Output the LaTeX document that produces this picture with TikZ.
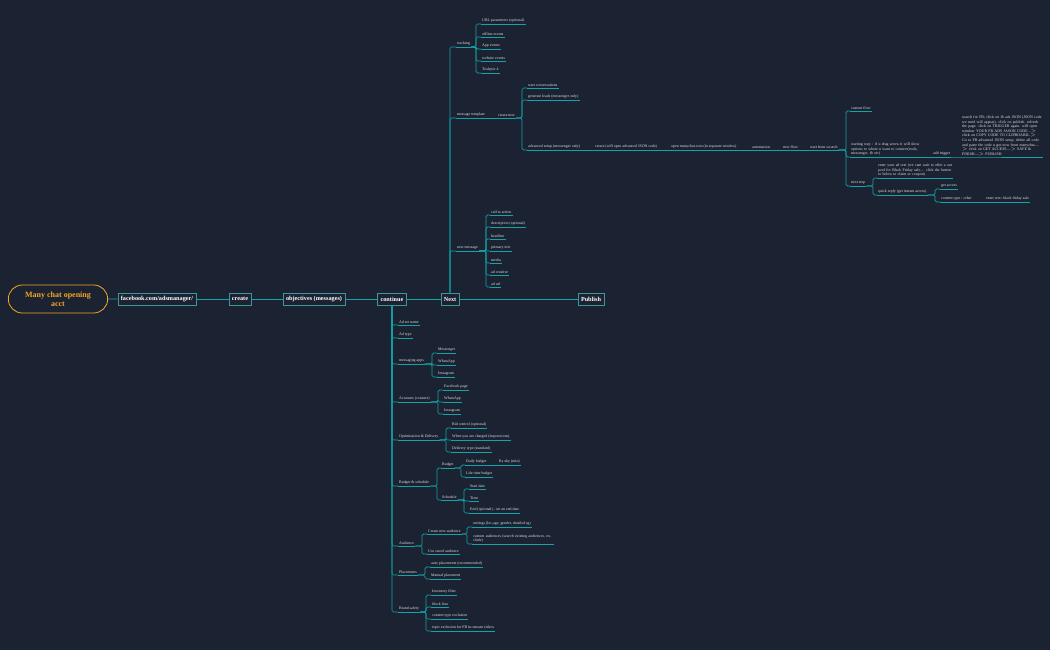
\documentclass[tikz,border=0pt]{standalone}
\usepackage{fontspec}
\setmainfont{Liberation Serif}
\usetikzlibrary{shapes.misc}
\definecolor{bg}{HTML}{1B2232}
\definecolor{tl}{HTML}{14A3A8}
\definecolor{org}{HTML}{F5A623}
\tikzset{
 leaf/.style={font=\fontsize{3.9}{4.6}\selectfont, text=white!88!black, inner sep=1pt, anchor=south west, align=left},
 ul/.style={tl, line width=0.7pt},
 cn/.style={tl, line width=0.7pt, rounded corners=1.5pt},
 box/.style={draw=tl!60!gray, fill=bg, line width=0.6pt, text=white, font=\bfseries\fontsize{6.2}{7}\selectfont, inner xsep=3pt, minimum height=12pt},
 main/.style={tl, line width=0.8pt}
}
\newcommand\lf[4]{\node[leaf] (#1) at (#2,#3) {#4}; \draw[ul] (#1.south west) -- (#1.south east);}
\newcommand\cn[3]{\draw[cn] (#1.south east) -- (#1.south east -| #2) |- (#3.south west);}
\begin{document}
\begin{tikzpicture}[x=1pt,y=-1pt]
\fill[bg] (0,0) rectangle (1050,650);
\useasboundingbox (0,0) rectangle (1050,650);
% main chain
\node[draw=org, rounded rectangle, line width=0.8pt, minimum width=106pt, minimum height=28pt, align=center, text=org, font=\bfseries\fontsize{8}{9}\selectfont] (root) at (58,299) {Many chat opening\\acct};
\node[box] (fb) at (157,299) {facebook.com/adsmanager/};
\node[box] (cr) at (240,299) {create};
\node[box] (obj) at (314,299) {objectives (messages)};
\node[box] (cont) at (392,299) {continue};
\node[box] (nx) at (450,299) {Next};
\node[box] (pub) at (591,299) {Publish};
\draw[main] (root) -- (fb); \draw[main] (fb) -- (cr); \draw[main] (cr) -- (obj);
\draw[main] (obj) -- (cont); \draw[main] (cont) -- (nx); \draw[main] (nx) -- (pub);
% Next children
\lf{trk}{456}{47}{tracking}
\lf{mt}{456}{118}{message template}
\lf{nm}{456}{251}{new message}
\foreach \c in {trk,mt,nm}{\draw[cn] (nx.north) |- (\c.south west);}
\coordinate (b1) at (476,0);
\lf{t1}{481}{24}{URL parameters (optional)}
\lf{t2}{481}{37}{offline events}
\lf{t3}{481}{49}{App events}
\lf{t4}{481}{61}{website events}
\lf{t5}{481}{73}{Tealepix 4}
\foreach \c in {t1,t2,t3,t4,t5}{\cn{trk}{b1}{\c}}
\lf{cnw}{497}{118}{create new}
\draw[ul] (mt.south east) -- (cnw.south west);
\coordinate (b2) at (522,0);
\lf{sc}{527}{88}{start conversations}
\lf{gl}{527}{100}{generate leads (messenger only)}
\lf{as}{527}{150}{advanced setup (messenger only)}
\foreach \c in {sc,gl,as}{\cn{cnw}{b2}{\c}}
\lf{cj}{594}{150}{create (will open advanced JSON code)}
\lf{om}{670}{150}{open manychat.com (in separate window)}
\lf{au}{751}{150}{automation}
\lf{nf}{782}{150}{new flow}
\lf{ss}{809}{150}{start from scratch}
\draw[ul] (as.south east) -- (cj.south west); \draw[ul] (cj.south east) -- (om.south west);
\draw[ul] (om.south east) -- (au.south west); \draw[ul] (au.south east) -- (nf.south west);
\draw[ul] (nf.south east) -- (ss.south west);
\coordinate (b3) at (846,0);
\lf{cf}{850}{111}{custom flow}
\node[leaf, text width=72pt] (st) at (850,157) {starting step : if u drag arrow it will show options to where u want to connect(tools, messenger, fb etc)};
\draw[ul] (st.south west) -- (st.south east);
\lf{ns}{850}{186}{next step}
\foreach \c in {cf,st,ns}{\cn{ss}{b3}{\c}}
\lf{at}{932}{157}{add trigger}
\draw[ul] (st.south east) -- (at.south west);
\node[leaf, text width=80pt] (js) at (961,157) {search for FB; click on fb ads JSON (JSON code we need will appear). click on publish. refresh the page. click on TRIGGER again. will open window YOUR FB ADS JASON CODE --$>$ click on COPY CODE TO CLIPBOARD--$>$ Go to FB advanced JSON setup, delete all code and paste the code u got now from manychat---$>$ click on GET ACCESS---$>$ SAVE \& FINISH---$>$ PUBLISH};
\draw[ul] (at.south east) -- (js.south west) -- (js.south east);
\coordinate (b4) at (873,0);
\node[leaf, text width=74pt] (et) at (877,178) {enter your ad text (we cant wait to offer a our pool for Black Friday sale.... click the button to below to claim ur coupon)};
\draw[ul] (et.south west) -- (et.south east);
\lf{qr}{877}{195}{quick reply (get instant access)}
\foreach \c in {et,qr}{\cn{ns}{b4}{\c}}
\coordinate (b5) at (935,0);
\lf{ga}{940}{189}{get access}
\lf{ct}{940}{202}{content type : other}
\foreach \c in {ga,ct}{\cn{qr}{b5}{\c}}
\lf{eb}{985}{202}{enter text: black friday sale}
\draw[ul] (ct.south east) -- (eb.south west);
\coordinate (b6) at (486,0);
\lf{m1}{490}{215}{call to action}
\lf{m2}{490}{227}{description (optional)}
\lf{m3}{490}{239}{headline}
\lf{m4}{490}{251}{primary text}
\lf{m5}{490}{263}{media}
\lf{m6}{490}{275}{ad creative}
\lf{m7}{490}{287}{ad url}
\foreach \c in {m1,m2,m3,m4,m5,m6,m7}{\cn{nm}{b6}{\c}}
% continue children
\lf{c1}{398}{325}{Ad set name}
\lf{c2}{398}{338}{Ad type}
\lf{c3}{398}{364}{messaging apps}
\lf{c4}{398}{402}{Accounts (connect)}
\lf{c5}{398}{440}{Optimization \& Delivery}
\lf{c6}{398}{486}{Budget \& schedule}
\lf{c7}{398}{546}{Audience}
\lf{c8}{398}{575}{Placements}
\lf{c9}{398}{612}{Brand safety}
\foreach \c in {c1,c2,c3,c4,c5,c6,c7,c8,c9}{\draw[cn] (cont.south) |- (\c.south west);}
\coordinate (d3) at (432,0);
\lf{a1}{437}{353}{Messenger} \lf{a2}{437}{365}{WhatsApp} \lf{a3}{437}{377}{Instagram}
\foreach \c in {a1,a2,a3}{\cn{c3}{d3}{\c}}
\coordinate (d4) at (438,0);
\lf{k1}{443}{390}{Facebook page} \lf{k2}{443}{402}{WhatsApp} \lf{k3}{443}{414}{Instagram}
\foreach \c in {k1,k2,k3}{\cn{c4}{d4}{\c}}
\coordinate (d5) at (446,0);
\lf{o1}{451}{428}{Bid control (optional)} \lf{o2}{451}{440}{When you are charged (impressions)} \lf{o3}{451}{452}{Delivery type (standard)}
\foreach \c in {o1,o2,o3}{\cn{c5}{d5}{\c}}
\coordinate (d6) at (437,0);
\lf{bu}{441}{468}{Budget} \lf{sh}{441}{500}{Schedule}
\foreach \c in {bu,sh}{\cn{c6}{d6}{\c}}
\coordinate (d7) at (461,0);
\lf{db}{465}{465}{Daily budget} \lf{lb}{465}{477}{Life time budget}
\foreach \c in {db,lb}{\cn{bu}{d7}{\c}}
\lf{rs}{498}{465}{Rs xky (min)}
\draw[ul] (db.south east) -- (rs.south west);
\coordinate (d8) at (464,0);
\lf{s1}{469}{489}{Start date} \lf{s2}{469}{501}{Time} \lf{s3}{469}{513}{End (optional) - set an end date}
\foreach \c in {s1,s2,s3}{\cn{sh}{d8}{\c}}
\coordinate (d9) at (422,0);
\lf{na}{427}{534}{Create new audience} \lf{ua}{427}{554}{Use saved audience}
\foreach \c in {na,ua}{\cn{c7}{d9}{\c}}
\coordinate (d10) at (467,0);
\lf{g1}{472}{527}{settings (loc,age, gender, detailed tg)}
\node[leaf, text width=80pt] (g2) at (472,544) {custom audiences (search existing audiences, exclude)};
\draw[ul] (g2.south west) -- (g2.south east);
\foreach \c in {g1,g2}{\cn{na}{d10}{\c}}
\coordinate (d11) at (425,0);
\lf{p1}{430}{567}{auto placements (recommended)} \lf{p2}{430}{579}{Manual placement}
\foreach \c in {p1,p2}{\cn{c8}{d11}{\c}}
\coordinate (d12) at (426,0);
\lf{q1}{431}{595}{Inventory filter} \lf{q2}{431}{607}{block lists} \lf{q3}{431}{619}{content type exclusion} \lf{q4}{431}{631}{topic exclusion for FB in-stream videos}
\foreach \c in {q1,q2,q3,q4}{\cn{c9}{d12}{\c}}
\end{tikzpicture}
\end{document}
